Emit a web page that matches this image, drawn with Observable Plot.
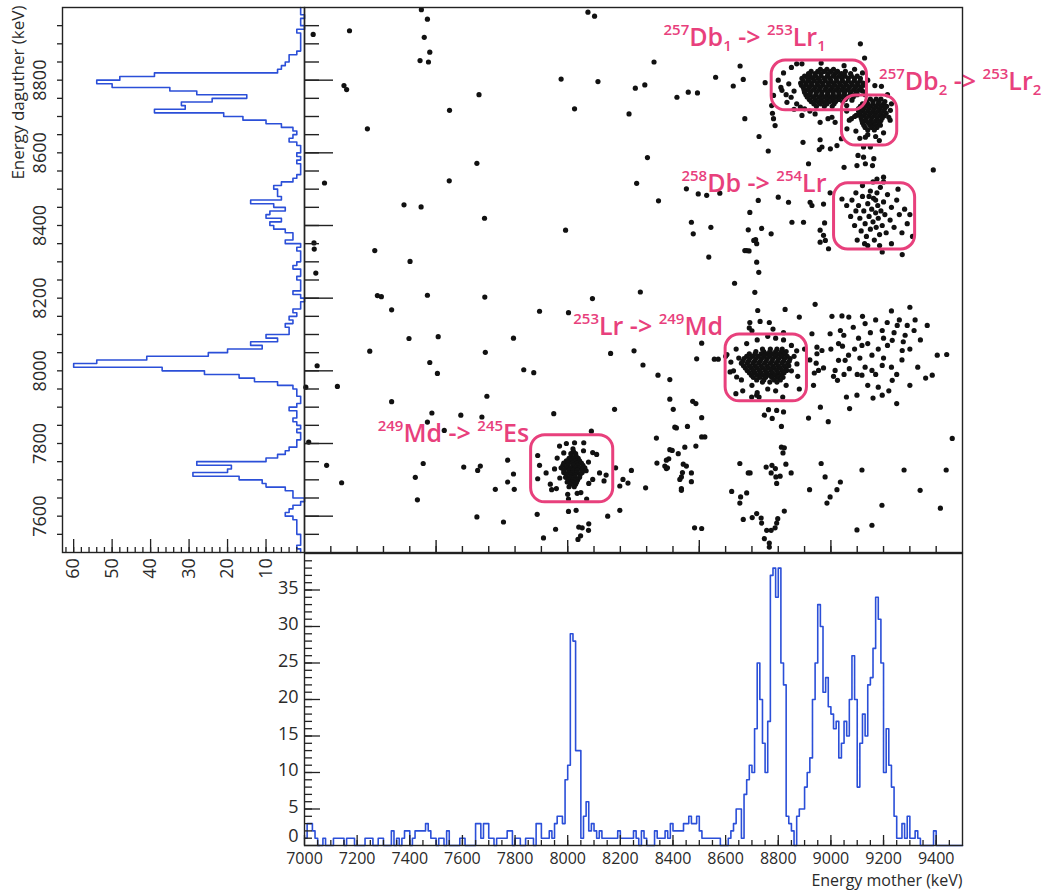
<!DOCTYPE html>
<html><head><meta charset="utf-8">
<script src="https://cdn.jsdelivr.net/npm/d3@7"></script>
<script src="https://cdn.jsdelivr.net/npm/@observablehq/plot@0.6"></script>
<style>
body{margin:0;background:#fff;}
#c{position:relative;width:1045px;height:891px;overflow:hidden;font-family:"Open Sans",sans-serif;}
#c svg{position:absolute;overflow:visible;}
</style></head><body><div id="c"></div>
<script>
// ---------- DATA ----------
const motherStart = 7000;   // keV, 10 keV bins
const motherCounts = [
 1,3,3,2,1,0,0,1,0,0,  0,1,1,1,1,0,1,1,1,0,  0,0,0,1,1,1,0,0,1,1,  0,0,0,2,0,1,0,1,2,2,
 0,1,2,2,2,2,3,2,1,1,  0,1,1,0,2,0,0,0,0,1,  1,0,0,0,0,3,3,1,3,3,  1,1,0,1,1,1,1,2,2,0,
 1,1,0,0,1,1,1,0,3,3,  1,1,1,2,1,3,4,4,3,9,  11,29,28,13,13,1,4,6,2,3,  2,1,2,1,1,1,1,1,1,2,
 1,1,1,1,1,2,1,0,2,1,  0,0,0,2,1,1,1,2,1,3,  2,2,2,2,3,3,4,3,3,4,  2,1,1,1,1,1,1,1,0,0,
 0,1,2,3,5,5,1,7,9,11,  10,16,25,20,14,10,17,37,38,34,  38,25,22,4,3,2,0,4,5,5,
 8,10,12,20,25,33,30,21,23,19,  18,16,17,12,14,17,15,20,26,20,  8,14,18,15,22,23,27,34,31,25,
 10,16,11,8,4,1,1,3,1,4,  1,1,2,1,0,0,0,0,0,2,  0,0,0,0,0,0,0,0,0,0
];
const daughterStart = 7500; // keV, 10 keV bins
const daughterCounts = [
 1,2,1,1,1,2,2,2,2,3,  5,4,3,1,0,3,3,5,10,11,  17,29,20,19,28,10,7,5,4,2,  2,1,1,2,1,2,3,2,2,4,
 2,1,1,2,2,3,7,13,17,26,  37,60,54,41,25,20,11,14,7,10,  4,4,5,3,4,2,3,1,1,0,  1,3,1,1,1,2,1,1,3,2,
 1,1,1,2,1,5,3,3,5,8,  9,6,10,9,5,8,14,6,7,7,  8,6,3,2,1,1,1,2,1,2,  1,1,2,4,3,2,3,6,10,16,
 21,39,31,32,24,15,28,35,50,54,  48,39,7,6,5,4,4,2,1,1,  1,1,1,2,0,1,1,0,1,1
];
// scattered (mother keV, daughter keV)
const loosePoints = [
 [7033,8926],[7171,8936],[7444,8994],[7467,8968],[7455,8918],[7476,8877],[7439,8854],[7471,8850],[8077,8987],[8102,8976],[8328,8850],[7150,8785],[7160,8774],[7663,8760],[7975,8803],[8115,8796],[8257,8778],[8293,8787],[8415,8753],[7551,8717],[8026,8721],[8233,8707],[7239,8666],[8303,8587],[7655,8571],[7076,8517],[7550,8523],[8262,8516],[8345,8468],[7378,8457],[7443,8451],[7684,8420],[7992,8387],[7036,8352],[7037,8335],[7267,8331],[7401,8301],[7043,8269],[7277,8207],[7292,8204],[7467,8208],[7685,8203],[8094,8199],[8276,8217],
 [7331,8168],[7893,8164],[8003,8160],[7397,8089],[7508,8094],[7794,8090],[7248,8054],[7687,8051],[8163,8048],[8252,8055],[7048,8014],[7476,8023],[7505,7993],[7833,8003],[7871,7995],[8286,8016],[8343,7988],[8388,7976],[7125,7957],[7005,7955],[7331,7915],[7693,7930],[8388,7922],[8178,7894],[8401,7894],[7484,7884],[7594,7878],[7674,7873],[7467,7859],[7531,7836],[7947,7882],[8090,7834],[8407,7845],[7016,7804],[8337,7815],[7084,7740],[7451,7745],[7605,7735],[7658,7726],[7668,7738],[7772,7754],[7794,7716],[7772,7694],[7797,7674],[7725,7674],[7141,7692],[7421,7707],[7429,7645],[8182,7733],[8242,7726],[8210,7701],[8229,7691],[8198,7683],[8296,7678],[8339,7746],[8369,7738],[8375,7731],[8384,7758],[8388,7783],[8420,7772],[8432,7708],[8432,7676],[7655,7598],[7756,7584],[7884,7605],[7954,7564],[7908,7540],[8003,7613],[8032,7616],[8042,7570],[8055,7568],[8080,7579],[8079,7561],[8049,7546],[8039,7536],[8152,7600],[8198,7616],
 [7886,7767],[7893,7740],[7918,7719],[7886,7703],[7934,7688],[7939,7673],[7957,7676],[7969,7793],[7985,7774],[8095,7775],[8110,7770],[8061,7802],[8026,7802],[8079,7749],[8121,7719],[8138,7697],[8095,7701],[8146,7713],[8003,7647],[8036,7663],[8072,7647],[7960,7760],[7970,7705],[8070,7725],[8080,7690],[8060,7780],[7995,7800],[8000,7660],[8050,7665],[7950,7730],
 [8509,8076],[8490,8033],[8557,8032],[8572,8032],[8475,7916],[8487,7910],[8509,7871],[8413,7843],[8455,7847],[8509,7818],[8521,7818],[8445,7790],[8487,7793],[8397,7781],[8375,7754],[8439,7743],[8451,7738],[8379,7733],[8436,7720],[8470,7719],[8426,7701],[8470,7695],[8432,7671],[8482,7568],[8509,7566],[8654,7745],[8686,7719],[8693,7719],[8623,7668],[8657,7653],[8654,7636],[8680,7664],[8667,7591],[8701,7596],[8718,7607],[8735,7595],[8737,7581],[8756,7561],[8773,7561],[8788,7568],[8794,7581],[8798,7593],[8823,7614],[8747,7538],[8766,7515],[8766,7526],[8754,7735],[8776,7740],[8789,7731],[8773,7719],[8791,7708],[8807,7710],[8794,7690],[8812,7790],[8823,7788],[8818,7774],[8829,7743],[8849,7719],[8812,7847],[8777,7869],[8747,7878],[8763,7893],[8794,7891],[8820,7887],[8727,7928],[8963,7745],[8978,7708],[8919,7673],[8997,7653],[8985,7636],[9023,7673],[9036,7694],
 [9118,7727],[9194,7630],[9278,7727],[9339,7671],[9438,7727],[9461,7814],[9416,7622],[9099,7562],[9156,7575],
 [8690,8118],[8731,8136],[8766,8133],[8826,8169],[8880,8148],[8940,8183],[8928,8102],[9042,8151],[9068,8148],[9004,8150],[9036,8111],[9049,8098],[8620,8024],[8642,7983],[8617,7997],[8639,7937],[8699,7928],[8718,7933],[8817,7928],[8871,8019],[8874,7985],[8947,8065],[8966,8056],[8947,8047],[8944,8021],[8953,8001],[8972,8008],[8937,7994],[8934,7960],[8997,8102],[9029,8075],[9044,8068],[9029,8029],[9054,8029],[9067,8043],[9016,8001],[9025,7974],[9010,7985],[9070,8006],[9071,7896],[9059,7928],
 [9118,8070],[9156,8043],[9195,8111],[9214,8133],[9233,8084],[9252,8125],[9271,8056],[9156,8001],[9195,8015],[9118,7988],[9099,7933],[9195,7933],[9233,7974],[9282,8098],[9316,8111],[9366,8125],[9404,8043],[9385,7988],[9440,8045],
 [9085,8120],[9105,8090],[9130,8130],[9140,8075],[9150,8105],[9170,8140],[9180,8060],[9200,8090],[9215,8070],[9240,8105],[9260,8140],[9275,8080],[9290,8125],[9300,8060],[9320,8140],[9340,8085],[9110,8035],[9130,8010],[9170,7990],[9200,8035],[9230,8010],[9250,7990],[9270,8030],[9180,7955],[9220,7945],[9300,7960],[9330,8010],[9360,7980],[9100,7990],[9140,7960],[9160,7925],[9250,7910],[9090,8060],[9120,8150],[9230,8165],[9300,8175],
 [8900,8060],[8920,8030],[8880,7950],[8960,7900],[8990,7860],[9000,8060],[9050,7990],[8915,7870],
 [8640,8060],[8650,8035],[8630,8000],[8660,7975],[8700,7960],[8720,7940],[8760,7950],[8790,7945],[8830,7960],[8850,8000],[8860,8040],[8850,8070],[8820,8085],[8790,8090],[8760,8095],[8720,8085],[8680,8075],[8700,8110],[8780,8115],[8820,8105],[8870,8055],[8665,7945],[8600,8040],[8605,8045],
 [8458,8767],[8493,8765],[8562,8808],[8655,8839],[8667,8802],[8629,8784],[8750,8793],[8673,8694],[8727,8645],[8762,8605],[8470,8409],[8477,8377],[8544,8395],[8686,8388],[8714,8361],[8718,8350],[8673,8331],[8689,8330],[8536,8313],[8773,8377],[8852,8409],[8896,8409],[8800,8478],[8839,8464],[8724,8469],[8451,8501],[8496,8487],[8528,8483],[8578,8489],[8915,8570],[8921,8464],[8928,8455],[8972,8459],[8959,8387],[8972,8373],[8979,8359],[8991,8336],[8959,8354],[8976,8407],[8997,8490],[9042,8473],[9099,8565],[9131,8570],[9158,8565],[9175,8528],[9200,8533],[9389,8553],[9195,8327],[9271,8320],[9050,8560],
 [9112,8900],[9128,8861],[8963,8847],[8782,8758],[8814,8772],[8849,8753],[8833,8739],[8884,8726],[8900,8721],[8775,8730],[8778,8709],[8782,8694],[8788,8675],[8890,8703],[8940,8707],[8959,8684],[8989,8694],[9004,8698],[9016,8684],[8894,8629],[8959,8636],[8966,8616],[8956,8609],[8998,8611],[9023,8620],[9040,8639],[9061,8666],[9078,8694],[9096,8703],[9124,8616],[9150,8616],[9131,8643],[9184,8634],[9220,8698],[9226,8717],[9103,8593],[9124,8588],[9163,8584],[9167,8785],[9192,8783],
 [8692,8436],[8707,8359],[8718,8299],[8737,8392],[8711,8216],[8722,8166],[8692,8133],[8680,8331],[8726,8271],[8634,8241],
 [8800,8800],[8820,8820],[8850,8835],[8870,8845],[8860,8770],[8840,8790],[8890,8845],[9050,8840],[9090,8830],[9120,8820],[9130,8760],[9140,8800],[8870,8735],[8860,8720],[8920,8715],[9060,8730],[9080,8745],[8830,8760],[8810,8780],
 [9100,8760],[9090,8700],[9095,8660],[9110,8640],[9140,8650],[9170,8645],[9200,8655],[9225,8690],[9230,8735],[9215,8760],[9120,8770],[9060,8715],[9070,8690],
 [9080,8470],[9095,8440],[9090,8400],[9105,8455],[9110,8420],[9115,8385],[9120,8480],[9125,8440],[9130,8405],[9135,8370],[9140,8460],[9145,8425],[9150,8495],[9150,8390],[9155,8445],[9160,8410],[9162,8475],[9165,8360],[9170,8435],[9172,8395],[9175,8490],[9178,8455],[9180,8420],[9185,8375],[9188,8505],[9190,8440],[9195,8400],[9200,8465],[9205,8430],[9210,8380],[9215,8485],[9225,8415],[9230,8450],[9240,8395],[9250,8470],[9260,8430],[9270,8380],[9100,8360],[9075,8425],[9140,8345],[9185,8345],[9230,8350],[9060,8455],[9280,8445],[9290,8405],[9160,8520],[9200,8520],[9120,8510],[9145,8480],[9170,8470],[9128,8350],[9095,8490],[9255,8500],[9300,8430],[9310,8370]
];
// dense cores: daughter row -> list of mother values
const db1Core = [
 {ed:8830, em:[8960,8985,9010]},
 {ed:8824, em:[8925,8950,8975,9000,9025,9055]},
 {ed:8818, em:[8915,8940,8962,8990,9015,9040,9075]},
 {ed:8811, em:[8900,8922,8942,8963,8986,9008,9031,9054,9078,9100]},
 {ed:8805, em:[8890,8912,8930,8952,8975,8996,9020,9042,9066,9090,9112]},
 {ed:8798, em:[8895,8915,8937,8958,8979,9000,9022,9044,9066,9089,9111]},
 {ed:8792, em:[8885,8905,8925,8948,8968,8990,9010,9033,9055,9078,9100,9122]},
 {ed:8786, em:[8888,8907,8929,8950,8971,8993,9016,9038,9060,9082,9104,9126]},
 {ed:8780, em:[8895,8918,8940,8960,8982,9005,9027,9048,9070,9093,9115]},
 {ed:8773, em:[8898,8911,8933,8955,8977,8997,9019,9041,9063,9086,9108]},
 {ed:8767, em:[8900,8922,8945,8966,8988,9008,9030,9052,9075,9098]},
 {ed:8760, em:[8905,8921,8943,8965,8987,9009,9031,9051,9073,9092]},
 {ed:8754, em:[8910,8932,8955,8976,8998,9020,9040,9062,9085]},
 {ed:8747, em:[8918,8940,8962,8985,9007,9030,9055]},
 {ed:8741, em:[8925,8950,8972,8995,9018,9045]},
 {ed:8735, em:[8935,8960,8985,9012]},
 {ed:8728, em:[8945,8975,9005]}
];
const db2Core = [
 {ed:8748, em:[9150,9172,9190]},
 {ed:8741, em:[9135,9160,9182,9205]},
 {ed:8735, em:[9120,9140,9160,9180,9200]},
 {ed:8728, em:[9112,9132,9152,9172,9192,9212]},
 {ed:8722, em:[9105,9125,9145,9165,9185,9205]},
 {ed:8715, em:[9105,9120,9140,9160,9180,9200]},
 {ed:8709, em:[9110,9130,9150,9170,9190,9210]},
 {ed:8702, em:[9112,9125,9145,9165,9185,9203]},
 {ed:8696, em:[9115,9135,9155,9175,9195]},
 {ed:8689, em:[9118,9132,9152,9172,9190]},
 {ed:8683, em:[9120,9142,9162,9182]},
 {ed:8676, em:[9125,9148,9168,9188]},
 {ed:8670, em:[9130,9155,9175]},
 {ed:8663, em:[9140,9165]}
];
const lr253Core = [
 {ed:8060, em:[8740,8770,8795,8815]},
 {ed:8053, em:[8715,8745,8768,8790,8812,8830]},
 {ed:8047, em:[8690,8712,8735,8757,8778,8800,8822]},
 {ed:8040, em:[8680,8702,8724,8746,8768,8790,8812,8834]},
 {ed:8034, em:[8670,8692,8715,8737,8758,8780,8802,8824,8845]},
 {ed:8027, em:[8665,8687,8710,8732,8754,8776,8798,8820,8842]},
 {ed:8021, em:[8660,8682,8704,8726,8748,8770,8792,8814,8836]},
 {ed:8014, em:[8668,8690,8712,8735,8757,8779,8800,8822,8840]},
 {ed:8008, em:[8675,8697,8719,8741,8763,8785,8807,8829]},
 {ed:8001, em:[8682,8705,8728,8750,8772,8794,8815,8832]},
 {ed:7995, em:[8690,8712,8734,8756,8778,8800,8822]},
 {ed:7988, em:[8698,8720,8742,8765,8788,8810]},
 {ed:7982, em:[8705,8730,8752,8775,8797,8818]},
 {ed:7975, em:[8718,8745,8785,8808]},
 {ed:7969, em:[8740,8768,8795]}
];
const md249Core = [
 {ed:7785, em:[8020]},
 {ed:7778, em:[8022]},
 {ed:7772, em:[8012,8030]},
 {ed:7765, em:[8014,8032]},
 {ed:7759, em:[8005,8022,8040]},
 {ed:7752, em:[7995,8012,8030,8045]},
 {ed:7746, em:[7985,8002,8018,8035,8052]},
 {ed:7740, em:[7982,8000,8020,8038,8058]},
 {ed:7733, em:[7975,7995,8012,8028,8045,8065]},
 {ed:7727, em:[7985,8004,8020,8037,8055]},
 {ed:7720, em:[7985,8003,8020,8037,8055]},
 {ed:7714, em:[7995,8012,8028,8047]},
 {ed:7707, em:[7992,8010,8027,8045]},
 {ed:7700, em:[8003,8020,8038]},
 {ed:7694, em:[7998,8016,8034]},
 {ed:7688, em:[8010,8030]},
 {ed:7681, em:[8005,8025]}
];
const annotations = [
 {em:8364, ed:8893, label:"^257Db_1 -> ^253Lr_1"},
 {em:9183, ed:8772, label:"^257Db_2 -> ^253Lr_2"},
 {em:8432, ed:8491, label:"^258Db -> ^254Lr"},
 {em:8021, ed:8100, label:"^253Lr -> ^249Md"},
 {em:7278, ed:7803, label:"^249Md -> ^245Es"}
];
const boxes = [
 {x1:8775, x2:9137, y1:8717, y2:8854},
 {x1:9042, x2:9252, y1:8620, y2:8758},
 {x1:9012, x2:9320, y1:8334, y2:8516},
 {x1:8600, x2:8909, y1:7916, y2:8100},
 {x1:7861, x2:8173, y1:7638, y2:7823}
];
const motherTickLabels = [7000,7200,7400,7600,7800,8000,8200,8400,8600,8800,9000,9200,9400];
const daughterTickLabels = [7600,7800,8000,8200,8400,8600,8800];
const leftCountLabels = [10,20,30,40,50,60];
const bottomCountLabels = [0,5,10,15,20,25,30,35];

// ---------- DERIVED ----------
const PINK = "#e8407c", BLUE = "#2b4fd8", AX = "#222", TXT = "#2a2a2a";
const FONT = '"Open Sans", "Noto Sans", sans-serif';
const rows = r => r.flatMap(o => o.em.map(e => [e, o.ed]));
const scatter = loosePoints.concat(rows(db1Core), rows(db2Core), rows(lr253Core), rows(md249Core));
const bottomOutline = motherCounts.flatMap((c,i)=>[{e:motherStart+10*i,c},{e:motherStart+10*(i+1),c}]);
const leftOutline = daughterCounts.flatMap((c,i)=>[{e:daughterStart+10*i,c},{e:daughterStart+10*(i+1),c}]);
const W = 658, H = 545, HB = 292;
const st = {fontFamily: FONT, background:"transparent", overflow:"visible", color: AX};

// ---------- MAIN SCATTER ----------
const main = Plot.plot({
  width: W + 83, height: H, marginLeft: 0, marginRight: 83, marginTop: 0, marginBottom: 0,
  x: {domain: [7000, 9500], axis: null}, y: {domain: [7500, 9000], axis: null},
  style: st,
  marks: [
    Plot.dot(scatter, {x: d=>d[0], y: d=>d[1], r: 2.6, fill: "#111"}),
    Plot.ruleY(d3.range(7550, 9000, 50), {stroke: AX, strokeWidth: 1.4, insetRight: W - 15}),
    Plot.ruleY(d3.range(7600, 9000, 200), {stroke: AX, strokeWidth: 1.4, insetRight: W - 29}),
    Plot.ruleX(d3.range(7100, 9500, 100), {stroke: AX, strokeWidth: 1.4, insetTop: H - 6}),
    Plot.ruleX([7500, 8000, 8500, 9000], {stroke: AX, strokeWidth: 1.4, insetTop: H - 12}),
    Plot.rect(boxes, {x1: "x1", x2: "x2", y1: "y1", y2: "y2", rx: 14, ry: 14, fill: "none", stroke: PINK, strokeWidth: 3}),
    Plot.text(annotations, {x: "em", y: "ed", text: "label", textAnchor: "start", fill: PINK, fontSize: 25, fontWeight: 600}),
    Plot.frame({stroke: AX, strokeWidth: 1.4})
  ]
});
// rich text: superscripts / subscripts
d3.select(main).selectAll("text").each(function(){
  const t = this.textContent;
  if (!t.includes("->")) return;
  const sel = d3.select(this);
  sel.text(null).attr("y", null).attr("dy", null).style("white-space", "pre");
  const re = /\^(\d+)|_(\d+)|([^\^_]+)/g; let m, off = 0;
  while ((m = re.exec(t))) {
    let target = 0, size = null, str;
    if (m[1]) { target = -11; size = 15; str = m[1]; }
    else if (m[2]) { target = 5; size = 15; str = m[2]; }
    else { str = m[3]; }
    const ts = sel.append("tspan").text(str).attr("dy", target - off);
    if (size) ts.attr("font-size", size);
    off = target;
  }
});
main.style.left = "304px"; main.style.top = "7px";

// ---------- LEFT (daughter) HISTOGRAM ----------
const left = Plot.plot({
  width: 304, height: 7 + H + 45, marginLeft: 62, marginRight: 0, marginTop: 7, marginBottom: 45,
  x: {domain: [0, 62.9], reverse: true, axis: null}, y: {domain: [7500, 9000], axis: null},
  style: st,
  marks: [
    Plot.line(leftOutline, {x: "c", y: "e", stroke: BLUE, strokeWidth: 1.6}),
    Plot.ruleY(d3.range(7550, 9000, 50), {stroke: AX, strokeWidth: 1.3, insetLeft: -5, insetRight: 242}),
    Plot.ruleX(d3.range(2, 63, 2), {stroke: AX, strokeWidth: 1.3, insetTop: H - 5}),
    Plot.ruleX(leftCountLabels, {stroke: AX, strokeWidth: 1.3, insetTop: H - 13}),
    Plot.text(daughterTickLabels, {y: d=>d, text: d=>String(d), frameAnchor: "left", dx: -22, rotate: -90, textAnchor: "middle", lineAnchor: "middle", fontSize: 18, fill: TXT}),
    Plot.text(leftCountLabels, {x: d=>d, text: d=>String(d), frameAnchor: "bottom", dy: 16, rotate: -90, textAnchor: "middle", lineAnchor: "middle", fontSize: 18, fill: TXT}),
    Plot.text(["Energy daguther (keV)"], {frameAnchor: "top-left", dx: -44, dy: -2, rotate: -90, textAnchor: "end", lineAnchor: "middle", fontSize: 17, fill: TXT}),
    Plot.frame({stroke: AX, strokeWidth: 1.4})
  ]
});
left.style.left = "0px"; left.style.top = "0px";

// ---------- BOTTOM (mother) HISTOGRAM ----------
const bottom = Plot.plot({
  width: 1045, height: HB + 46, marginLeft: 304, marginRight: 83, marginTop: 0, marginBottom: 46,
  x: {domain: [7000, 9500], axis: null}, y: {domain: [0, 40], axis: null},
  style: st,
  marks: [
    Plot.line(bottomOutline, {x: "e", y: "c", stroke: BLUE, strokeWidth: 1.6}),
    Plot.ruleY(d3.range(1, 40, 1), {stroke: AX, strokeWidth: 1.3, insetRight: W - 8}),
    Plot.ruleY(bottomCountLabels, {stroke: AX, strokeWidth: 1.3, insetRight: W - 16}),
    Plot.ruleX(d3.range(7050, 9500, 50), {stroke: AX, strokeWidth: 1.3, insetTop: HB - 5}),
    Plot.ruleX(motherTickLabels, {stroke: AX, strokeWidth: 1.3, insetTop: HB - 10}),
    Plot.text(bottomCountLabels.filter(d => d > 0), {y: d=>d, text: d=>String(d), frameAnchor: "left", dx: -6, dy: -2, textAnchor: "end", lineAnchor: "middle", fontSize: 18, fill: TXT}),
    Plot.text(bottomCountLabels.filter(d => d === 0), {y: d=>d, text: d=>String(d), frameAnchor: "left", dx: -6, dy: -9, textAnchor: "end", lineAnchor: "middle", fontSize: 18, fill: TXT}),
    Plot.text(motherTickLabels, {x: d=>d, text: d=>String(d), frameAnchor: "bottom", dy: 13, textAnchor: "middle", lineAnchor: "middle", fontSize: 16, fill: TXT}),
    Plot.text(["Energy mother (keV)"], {frameAnchor: "bottom-right", dy: 35, textAnchor: "end", lineAnchor: "middle", fontSize: 16, fill: TXT}),
    Plot.frame({stroke: AX, strokeWidth: 1.4})
  ]
});
bottom.style.left = "0px"; bottom.style.top = "553px";

const c = document.getElementById("c");
c.appendChild(bottom); c.appendChild(left); c.appendChild(main);
</script></body></html>
